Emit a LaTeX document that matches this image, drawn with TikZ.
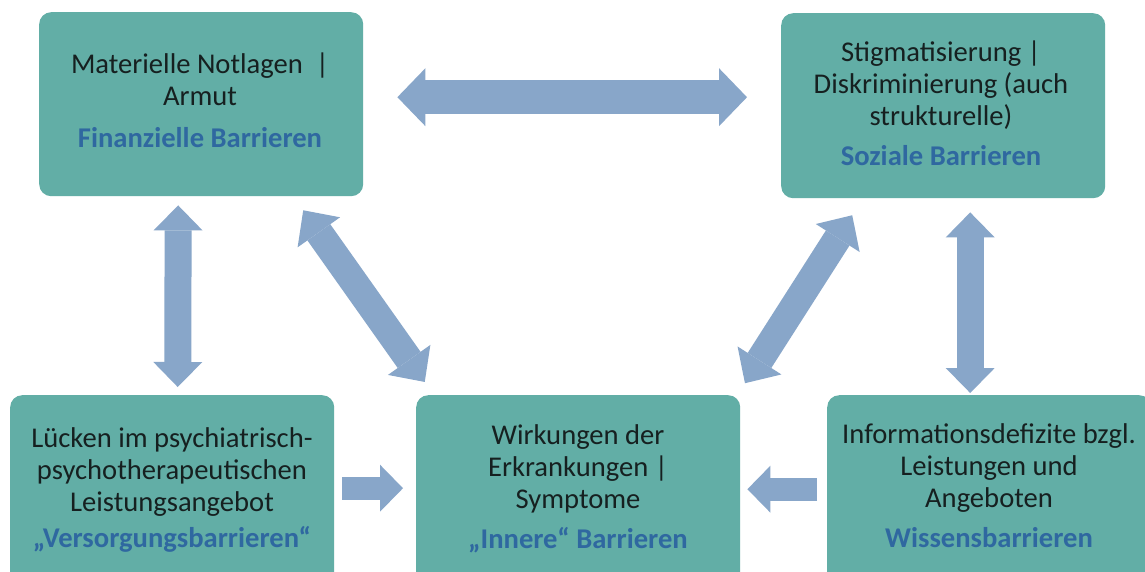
\documentclass[tikz,border=0pt]{standalone}
\usepackage{fontspec}
\setmainfont{Carlito}
\usetikzlibrary{arrows.meta}
\definecolor{boxfill}{RGB}{98,174,166}
\definecolor{arrowfill}{RGB}{136,166,201}
\definecolor{lblblue}{RGB}{47,104,160}
\definecolor{txtc}{RGB}{22,32,32}
\begin{document}
\begin{tikzpicture}[x=1pt,y=-1pt,
  box/.style={fill=boxfill, rounded corners=12pt, inner sep=0pt, draw=none, minimum width=324pt},
  txt/.style={font=\fontsize{28.6}{32}\selectfont, text=txtc, align=center, inner sep=0pt, anchor=base},
  hdarrow/.style={draw=arrowfill, line width=34pt,
    {Triangle[width=58pt,length=28pt,line width=0pt]}-{Triangle[width=58pt,length=28pt,line width=0pt]}},
  vdarrow/.style={draw=arrowfill, line width=27pt,
    {Triangle[width=49pt,length=25pt,line width=0pt]}-{Triangle[width=49pt,length=25pt,line width=0pt]}},
  ddarrow/.style={draw=arrowfill, line width=28pt,
    {Triangle[width=52pt,length=27pt,line width=0pt]}-{Triangle[width=52pt,length=27pt,line width=0pt]}},
  sarrow/.style={draw=arrowfill, line width=23pt,
    -{Triangle[width=47pt,length=23pt,line width=0pt]}}
]
\useasboundingbox (0,0) rectangle (1145,571);
\clip (0,0) rectangle (1145,571);
\fill[white] (0,0) rectangle (1145,571);

% boxes
\node[box, minimum height=184pt, anchor=north west] (tl) at (39,12) {};
\node[box, minimum height=185pt, anchor=north west] (tr) at (781,13) {};
\node[box, minimum height=190pt, anchor=north west] (bl) at (10,395) {};
\node[box, minimum height=190pt, anchor=north west] (bm) at (416,395) {};
\node[box, minimum height=190pt, anchor=north west] (br) at (827,395) {};

% arrows
\draw[hdarrow, shorten <=34pt, shorten >=34pt] ([yshift=7pt]tl.east) -- ([yshift=8.5pt]tr.west);
\draw[vdarrow, shorten <=9pt, shorten >=8pt] ([xshift=-23pt]tl.south) -- ([xshift=5.5pt]bl.north);
\draw[ddarrow, shorten <=17pt, shorten >=16pt] ([xshift=-70pt]tl.south east) -- ([xshift=18pt]bm.north west);
\draw[ddarrow, shorten <=20pt, shorten >=14pt] ([xshift=82pt]tr.south west) -- ([xshift=-3pt]bm.north east);
\draw[vdarrow, shorten <=14pt, shorten >=2pt] ([xshift=27pt]tr.south) -- ([xshift=-19pt]br.north);
\draw[sarrow, shorten <=8pt, shorten >=13pt] ([yshift=2pt]bl.east) -- ([yshift=2pt]bm.west);
\draw[sarrow, shorten <=10pt, shorten >=7pt] ([yshift=1pt]br.west) -- ([yshift=1pt]bm.east);

% texts (anchored at the baseline of the last line)
\node[txt] (tltext) at (200,147) {Materielle Notlagen~~|\\Armut\\[10pt]{\bfseries\color{lblblue}Finanzielle Barrieren}};
\node[txt] (trtext) at (941,165) {Stigmatisierung |\\Diskriminierung (auch\\strukturelle)\\[8pt]{\bfseries\color{lblblue}Soziale Barrieren}};
\node[txt] (bltext) at (172,547) {Lücken im psychiatrisch-\\psychotherapeutischen\\Leistungsangebot\\[4pt]{\bfseries\color{lblblue}„Versorgungsbarrieren“}};
\node[txt] (bmtext) at (578,548) {Wirkungen der\\Erkrankungen |\\Symptome\\[8pt]{\bfseries\color{lblblue}„Innere“ Barrieren}};
\node[txt] (brtext) at (989,547) {Informationsdefizite bzgl.\\Leistungen und\\Angeboten\\[8pt]{\bfseries\color{lblblue}Wissensbarrieren}};
\end{tikzpicture}
\end{document}
